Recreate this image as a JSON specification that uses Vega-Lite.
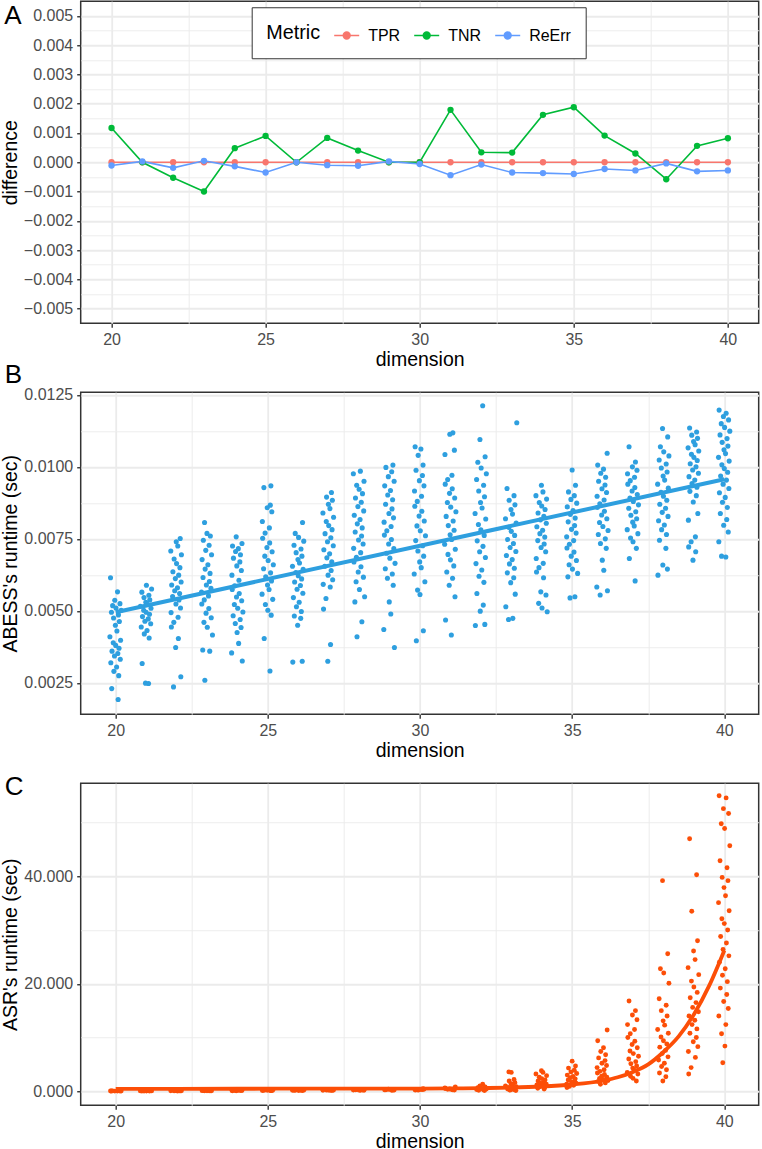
{
"$schema": "https://vega.github.io/schema/vega-lite/v6.json",
"padding": {"left": -1.3, "top": 0.25, "right": 0, "bottom": 0},
"bounds": "flush",
"spacing": 69,
"config": {
  "font": "Liberation Sans",
  "view": {"stroke": "#333333", "strokeWidth": 1.5},
  "axis": {"domain": false, "tickColor": "#333333", "tickSize": 4, "tickWidth": 1.4, "tickCount": 100, "labelFont": "Liberation Sans", "labelFontSize": 16, "labelColor": "#4D4D4D", "labelPadding": 4, "labelOverlap": false, "labelFlush": false, "titleFont": "Liberation Sans", "titleFontSize": 19.5, "titleFontWeight": "normal", "titleColor": "#000000", "titlePadding": 3, "gridColor": "#EBEBEB"},
  "title": {"font": "Liberation Sans", "fontSize": 26, "fontWeight": "normal", "color": "#000000", "orient": "bottom", "align": "left", "baseline": "alphabetic", "anchor": "start", "frame": "bounds", "offset": 0, "dx": 4}
},
"datasets": {
"diff": [
{"dimension":20,"Metric":"TPR","difference":0},{"dimension":21,"Metric":"TPR","difference":0},{"dimension":22,"Metric":"TPR","difference":0},{"dimension":23,"Metric":"TPR","difference":0},{"dimension":24,"Metric":"TPR","difference":0},{"dimension":25,"Metric":"TPR","difference":0},{"dimension":26,"Metric":"TPR","difference":0},{"dimension":27,"Metric":"TPR","difference":0},{"dimension":28,"Metric":"TPR","difference":0},{"dimension":29,"Metric":"TPR","difference":0},{"dimension":30,"Metric":"TPR","difference":0},{"dimension":31,"Metric":"TPR","difference":0},{"dimension":32,"Metric":"TPR","difference":0},{"dimension":33,"Metric":"TPR","difference":0},{"dimension":34,"Metric":"TPR","difference":0},{"dimension":35,"Metric":"TPR","difference":0},{"dimension":36,"Metric":"TPR","difference":0},{"dimension":37,"Metric":"TPR","difference":0},{"dimension":38,"Metric":"TPR","difference":0},{"dimension":39,"Metric":"TPR","difference":0},{"dimension":40,"Metric":"TPR","difference":0},
{"dimension":20,"Metric":"TNR","difference":0.00117},{"dimension":21,"Metric":"TNR","difference":0.0},{"dimension":22,"Metric":"TNR","difference":-0.00053},{"dimension":23,"Metric":"TNR","difference":-0.001},{"dimension":24,"Metric":"TNR","difference":0.00048},{"dimension":25,"Metric":"TNR","difference":0.0009},{"dimension":26,"Metric":"TNR","difference":0.0},{"dimension":27,"Metric":"TNR","difference":0.00083},{"dimension":28,"Metric":"TNR","difference":0.0004},{"dimension":29,"Metric":"TNR","difference":0.0},{"dimension":30,"Metric":"TNR","difference":0.0},{"dimension":31,"Metric":"TNR","difference":0.00179},{"dimension":32,"Metric":"TNR","difference":0.00034},{"dimension":33,"Metric":"TNR","difference":0.00033},{"dimension":34,"Metric":"TNR","difference":0.00162},{"dimension":35,"Metric":"TNR","difference":0.00188},{"dimension":36,"Metric":"TNR","difference":0.00091},{"dimension":37,"Metric":"TNR","difference":0.0003},{"dimension":38,"Metric":"TNR","difference":-0.00058},{"dimension":39,"Metric":"TNR","difference":0.00056},{"dimension":40,"Metric":"TNR","difference":0.00082},
{"dimension":20,"Metric":"ReErr","difference":-0.00011},{"dimension":21,"Metric":"ReErr","difference":0.00003},{"dimension":22,"Metric":"ReErr","difference":-0.00019},{"dimension":23,"Metric":"ReErr","difference":0.00005},{"dimension":24,"Metric":"ReErr","difference":-0.00014},{"dimension":25,"Metric":"ReErr","difference":-0.00035},{"dimension":26,"Metric":"ReErr","difference":0.0},{"dimension":27,"Metric":"ReErr","difference":-0.0001},{"dimension":28,"Metric":"ReErr","difference":-0.00012},{"dimension":29,"Metric":"ReErr","difference":0.00003},{"dimension":30,"Metric":"ReErr","difference":-0.00006},{"dimension":31,"Metric":"ReErr","difference":-0.00044},{"dimension":32,"Metric":"ReErr","difference":-0.00008},{"dimension":33,"Metric":"ReErr","difference":-0.00035},{"dimension":34,"Metric":"ReErr","difference":-0.00037},{"dimension":35,"Metric":"ReErr","difference":-0.0004},{"dimension":36,"Metric":"ReErr","difference":-0.00023},{"dimension":37,"Metric":"ReErr","difference":-0.00028},{"dimension":38,"Metric":"ReErr","difference":-0.00004},{"dimension":39,"Metric":"ReErr","difference":-0.00031},{"dimension":40,"Metric":"ReErr","difference":-0.00028}
],
"abess": [
{"dim":19.83,"sec":0.00615},{"dim":20.06,"sec":0.00566},{"dim":19.97,"sec":0.00537},{"dim":20.14,"sec":0.00525},{"dim":19.90,"sec":0.00518},{"dim":20.01,"sec":0.00510},{"dim":20.18,"sec":0.00502},{"dim":19.86,"sec":0.00495},{"dim":20.09,"sec":0.00486},{"dim":19.93,"sec":0.00475},{"dim":20.12,"sec":0.00463},{"dim":19.99,"sec":0.00450},{"dim":20.04,"sec":0.00430},{"dim":19.81,"sec":0.00410},{"dim":20.16,"sec":0.00398},{"dim":19.92,"sec":0.00389},{"dim":20.00,"sec":0.00380},{"dim":20.11,"sec":0.00370},{"dim":19.88,"sec":0.00360},{"dim":20.07,"sec":0.00352},{"dim":19.96,"sec":0.00343},{"dim":20.15,"sec":0.00332},{"dim":19.84,"sec":0.00320},{"dim":20.03,"sec":0.00305},{"dim":19.94,"sec":0.00290},{"dim":20.10,"sec":0.00275},{"dim":19.87,"sec":0.00230},{"dim":20.08,"sec":0.00192},
{"dim":21.01,"sec":0.00589},{"dim":21.18,"sec":0.00576},{"dim":20.86,"sec":0.00565},{"dim":21.09,"sec":0.00554},{"dim":20.93,"sec":0.00546},{"dim":21.12,"sec":0.00538},{"dim":20.99,"sec":0.00530},{"dim":21.04,"sec":0.00523},{"dim":20.81,"sec":0.00516},{"dim":21.16,"sec":0.00509},{"dim":20.92,"sec":0.00502},{"dim":21.00,"sec":0.00495},{"dim":21.11,"sec":0.00488},{"dim":20.88,"sec":0.00480},{"dim":21.07,"sec":0.00472},{"dim":20.96,"sec":0.00464},{"dim":21.15,"sec":0.00455},{"dim":20.84,"sec":0.00444},{"dim":21.03,"sec":0.00432},{"dim":20.94,"sec":0.00420},{"dim":21.10,"sec":0.00406},{"dim":20.87,"sec":0.00317},{"dim":21.08,"sec":0.00248},{"dim":20.98,"sec":0.00249},
{"dim":22.12,"sec":0.00751},{"dim":21.99,"sec":0.00740},{"dim":22.04,"sec":0.00725},{"dim":21.81,"sec":0.00708},{"dim":22.16,"sec":0.00695},{"dim":21.92,"sec":0.00680},{"dim":22.00,"sec":0.00664},{"dim":22.11,"sec":0.00650},{"dim":21.88,"sec":0.00636},{"dim":22.07,"sec":0.00624},{"dim":21.96,"sec":0.00612},{"dim":22.15,"sec":0.00600},{"dim":21.84,"sec":0.00590},{"dim":22.03,"sec":0.00580},{"dim":21.94,"sec":0.00570},{"dim":22.10,"sec":0.00560},{"dim":21.87,"sec":0.00550},{"dim":22.08,"sec":0.00538},{"dim":21.98,"sec":0.00524},{"dim":22.13,"sec":0.00510},{"dim":21.82,"sec":0.00494},{"dim":22.05,"sec":0.00478},{"dim":21.91,"sec":0.00460},{"dim":21.83,"sec":0.00444},{"dim":22.06,"sec":0.00404},{"dim":21.97,"sec":0.00373},{"dim":22.14,"sec":0.00271},{"dim":21.90,"sec":0.00236},
{"dim":22.92,"sec":0.00807},{"dim":23.00,"sec":0.00769},{"dim":23.11,"sec":0.00760},{"dim":22.88,"sec":0.00745},{"dim":23.07,"sec":0.00728},{"dim":22.96,"sec":0.00710},{"dim":23.15,"sec":0.00695},{"dim":22.84,"sec":0.00678},{"dim":23.03,"sec":0.00660},{"dim":22.94,"sec":0.00645},{"dim":23.10,"sec":0.00630},{"dim":22.87,"sec":0.00616},{"dim":23.08,"sec":0.00602},{"dim":22.98,"sec":0.00590},{"dim":23.13,"sec":0.00578},{"dim":22.82,"sec":0.00565},{"dim":23.05,"sec":0.00552},{"dim":22.91,"sec":0.00538},{"dim":22.83,"sec":0.00524},{"dim":23.06,"sec":0.00508},{"dim":22.97,"sec":0.00492},{"dim":23.14,"sec":0.00476},{"dim":22.90,"sec":0.00460},{"dim":23.01,"sec":0.00443},{"dim":23.18,"sec":0.00416},{"dim":22.86,"sec":0.00364},{"dim":23.09,"sec":0.00360},{"dim":22.93,"sec":0.00259},
{"dim":23.96,"sec":0.00757},{"dim":24.15,"sec":0.00734},{"dim":23.84,"sec":0.00725},{"dim":24.03,"sec":0.00716},{"dim":23.94,"sec":0.00706},{"dim":24.10,"sec":0.00695},{"dim":23.87,"sec":0.00683},{"dim":24.08,"sec":0.00670},{"dim":23.98,"sec":0.00656},{"dim":24.13,"sec":0.00640},{"dim":23.82,"sec":0.00624},{"dim":24.05,"sec":0.00606},{"dim":23.91,"sec":0.00587},{"dim":23.83,"sec":0.00574},{"dim":24.06,"sec":0.00560},{"dim":23.97,"sec":0.00548},{"dim":24.14,"sec":0.00535},{"dim":23.90,"sec":0.00522},{"dim":24.01,"sec":0.00509},{"dim":24.18,"sec":0.00496},{"dim":23.86,"sec":0.00483},{"dim":24.09,"sec":0.00470},{"dim":23.93,"sec":0.00456},{"dim":24.12,"sec":0.00442},{"dim":23.99,"sec":0.00425},{"dim":24.04,"sec":0.00387},{"dim":23.81,"sec":0.00354},{"dim":24.16,"sec":0.00326},
{"dim":25.10,"sec":0.00934},{"dim":24.87,"sec":0.00928},{"dim":25.08,"sec":0.00867},{"dim":24.98,"sec":0.00858},{"dim":25.13,"sec":0.00844},{"dim":24.82,"sec":0.00810},{"dim":25.05,"sec":0.00788},{"dim":24.91,"sec":0.00770},{"dim":24.83,"sec":0.00752},{"dim":25.06,"sec":0.00736},{"dim":24.97,"sec":0.00720},{"dim":25.14,"sec":0.00705},{"dim":24.90,"sec":0.00690},{"dim":25.01,"sec":0.00675},{"dim":25.18,"sec":0.00660},{"dim":24.86,"sec":0.00646},{"dim":25.09,"sec":0.00632},{"dim":24.93,"sec":0.00618},{"dim":25.12,"sec":0.00604},{"dim":24.99,"sec":0.00590},{"dim":25.04,"sec":0.00574},{"dim":24.81,"sec":0.00558},{"dim":25.16,"sec":0.00540},{"dim":24.92,"sec":0.00522},{"dim":25.00,"sec":0.00502},{"dim":25.11,"sec":0.00485},{"dim":24.88,"sec":0.00404},{"dim":25.07,"sec":0.00291},
{"dim":26.14,"sec":0.00807},{"dim":25.90,"sec":0.00769},{"dim":26.01,"sec":0.00755},{"dim":26.18,"sec":0.00742},{"dim":25.86,"sec":0.00728},{"dim":26.09,"sec":0.00715},{"dim":25.93,"sec":0.00702},{"dim":26.12,"sec":0.00690},{"dim":25.99,"sec":0.00678},{"dim":26.04,"sec":0.00666},{"dim":25.81,"sec":0.00655},{"dim":26.16,"sec":0.00644},{"dim":25.92,"sec":0.00633},{"dim":26.00,"sec":0.00622},{"dim":26.11,"sec":0.00611},{"dim":25.88,"sec":0.00600},{"dim":26.07,"sec":0.00588},{"dim":25.96,"sec":0.00575},{"dim":26.15,"sec":0.00561},{"dim":25.84,"sec":0.00546},{"dim":26.03,"sec":0.00530},{"dim":25.94,"sec":0.00514},{"dim":26.10,"sec":0.00498},{"dim":25.87,"sec":0.00482},{"dim":26.08,"sec":0.00474},{"dim":25.98,"sec":0.00450},{"dim":26.13,"sec":0.00325},{"dim":25.82,"sec":0.00322},
{"dim":27.09,"sec":0.00911},{"dim":26.93,"sec":0.00895},{"dim":27.12,"sec":0.00884},{"dim":26.99,"sec":0.00870},{"dim":27.04,"sec":0.00855},{"dim":26.81,"sec":0.00840},{"dim":27.16,"sec":0.00825},{"dim":26.92,"sec":0.00810},{"dim":27.00,"sec":0.00796},{"dim":27.11,"sec":0.00782},{"dim":26.88,"sec":0.00768},{"dim":27.07,"sec":0.00754},{"dim":26.96,"sec":0.00740},{"dim":27.15,"sec":0.00726},{"dim":26.84,"sec":0.00712},{"dim":27.03,"sec":0.00698},{"dim":26.94,"sec":0.00684},{"dim":27.10,"sec":0.00670},{"dim":26.87,"sec":0.00655},{"dim":27.08,"sec":0.00640},{"dim":26.98,"sec":0.00624},{"dim":27.13,"sec":0.00608},{"dim":26.82,"sec":0.00592},{"dim":27.05,"sec":0.00583},{"dim":26.91,"sec":0.00543},{"dim":26.83,"sec":0.00506},{"dim":27.06,"sec":0.00383},{"dim":26.97,"sec":0.00325},
{"dim":28.04,"sec":0.00985},{"dim":27.81,"sec":0.00976},{"dim":28.16,"sec":0.00950},{"dim":27.92,"sec":0.00936},{"dim":28.00,"sec":0.00922},{"dim":28.11,"sec":0.00907},{"dim":27.88,"sec":0.00892},{"dim":28.07,"sec":0.00877},{"dim":27.96,"sec":0.00862},{"dim":28.15,"sec":0.00847},{"dim":27.84,"sec":0.00832},{"dim":28.03,"sec":0.00817},{"dim":27.94,"sec":0.00802},{"dim":28.10,"sec":0.00788},{"dim":27.87,"sec":0.00774},{"dim":28.08,"sec":0.00760},{"dim":27.98,"sec":0.00746},{"dim":28.13,"sec":0.00732},{"dim":27.82,"sec":0.00717},{"dim":28.05,"sec":0.00702},{"dim":27.91,"sec":0.00686},{"dim":27.83,"sec":0.00670},{"dim":28.06,"sec":0.00653},{"dim":27.97,"sec":0.00635},{"dim":28.14,"sec":0.00617},{"dim":27.90,"sec":0.00601},{"dim":28.01,"sec":0.00574},{"dim":28.18,"sec":0.00549},{"dim":27.86,"sec":0.00531},{"dim":28.09,"sec":0.00462},{"dim":27.93,"sec":0.00410},
{"dim":29.11,"sec":0.01006},{"dim":28.88,"sec":0.00998},{"dim":29.07,"sec":0.00983},{"dim":28.96,"sec":0.00966},{"dim":29.15,"sec":0.00950},{"dim":28.84,"sec":0.00934},{"dim":29.03,"sec":0.00918},{"dim":28.94,"sec":0.00902},{"dim":29.10,"sec":0.00886},{"dim":28.87,"sec":0.00870},{"dim":29.08,"sec":0.00854},{"dim":28.98,"sec":0.00838},{"dim":29.13,"sec":0.00823},{"dim":28.82,"sec":0.00808},{"dim":29.05,"sec":0.00793},{"dim":28.91,"sec":0.00778},{"dim":28.83,"sec":0.00763},{"dim":29.06,"sec":0.00748},{"dim":28.97,"sec":0.00732},{"dim":29.14,"sec":0.00716},{"dim":28.90,"sec":0.00700},{"dim":29.01,"sec":0.00683},{"dim":29.18,"sec":0.00665},{"dim":28.86,"sec":0.00646},{"dim":29.09,"sec":0.00628},{"dim":28.93,"sec":0.00613},{"dim":29.12,"sec":0.00589},{"dim":28.99,"sec":0.00531},{"dim":29.04,"sec":0.00489},{"dim":28.81,"sec":0.00435},{"dim":29.16,"sec":0.00373},
{"dim":29.84,"sec":0.01070},{"dim":30.03,"sec":0.01062},{"dim":29.94,"sec":0.01040},{"dim":30.10,"sec":0.01006},{"dim":29.87,"sec":0.00988},{"dim":30.08,"sec":0.00970},{"dim":29.98,"sec":0.00952},{"dim":30.13,"sec":0.00934},{"dim":29.82,"sec":0.00916},{"dim":30.05,"sec":0.00898},{"dim":29.91,"sec":0.00880},{"dim":29.83,"sec":0.00863},{"dim":30.06,"sec":0.00846},{"dim":29.97,"sec":0.00829},{"dim":30.14,"sec":0.00812},{"dim":29.90,"sec":0.00795},{"dim":30.01,"sec":0.00778},{"dim":30.18,"sec":0.00761},{"dim":29.86,"sec":0.00744},{"dim":30.09,"sec":0.00726},{"dim":29.93,"sec":0.00708},{"dim":30.12,"sec":0.00690},{"dim":29.99,"sec":0.00670},{"dim":30.04,"sec":0.00650},{"dim":29.81,"sec":0.00628},{"dim":30.16,"sec":0.00601},{"dim":29.92,"sec":0.00572},{"dim":30.00,"sec":0.00557},{"dim":30.11,"sec":0.00431},{"dim":29.88,"sec":0.00396},
{"dim":31.08,"sec":0.01118},{"dim":30.98,"sec":0.01113},{"dim":31.13,"sec":0.01058},{"dim":30.82,"sec":0.01043},{"dim":31.05,"sec":0.00971},{"dim":30.91,"sec":0.00956},{"dim":30.83,"sec":0.00940},{"dim":31.06,"sec":0.00924},{"dim":30.97,"sec":0.00908},{"dim":31.14,"sec":0.00892},{"dim":30.90,"sec":0.00876},{"dim":31.01,"sec":0.00860},{"dim":31.18,"sec":0.00844},{"dim":30.86,"sec":0.00828},{"dim":31.09,"sec":0.00812},{"dim":30.93,"sec":0.00796},{"dim":31.12,"sec":0.00780},{"dim":30.99,"sec":0.00764},{"dim":31.04,"sec":0.00748},{"dim":30.81,"sec":0.00731},{"dim":31.16,"sec":0.00714},{"dim":30.92,"sec":0.00696},{"dim":31.00,"sec":0.00677},{"dim":31.11,"sec":0.00656},{"dim":30.88,"sec":0.00635},{"dim":31.07,"sec":0.00613},{"dim":30.96,"sec":0.00589},{"dim":31.15,"sec":0.00549},{"dim":30.84,"sec":0.00468},{"dim":31.03,"sec":0.00416},
{"dim":32.06,"sec":0.01212},{"dim":31.97,"sec":0.01095},{"dim":32.14,"sec":0.01035},{"dim":31.90,"sec":0.01016},{"dim":32.01,"sec":0.00996},{"dim":32.18,"sec":0.00976},{"dim":31.86,"sec":0.00956},{"dim":32.09,"sec":0.00936},{"dim":31.93,"sec":0.00916},{"dim":32.12,"sec":0.00896},{"dim":31.99,"sec":0.00876},{"dim":32.04,"sec":0.00857},{"dim":31.81,"sec":0.00838},{"dim":32.16,"sec":0.00819},{"dim":31.92,"sec":0.00800},{"dim":32.00,"sec":0.00781},{"dim":32.11,"sec":0.00762},{"dim":31.88,"sec":0.00743},{"dim":32.07,"sec":0.00724},{"dim":31.96,"sec":0.00705},{"dim":32.15,"sec":0.00685},{"dim":31.84,"sec":0.00664},{"dim":32.03,"sec":0.00642},{"dim":31.94,"sec":0.00620},{"dim":32.10,"sec":0.00599},{"dim":31.87,"sec":0.00560},{"dim":32.08,"sec":0.00520},{"dim":31.98,"sec":0.00499},{"dim":32.13,"sec":0.00453},{"dim":31.82,"sec":0.00449},
{"dim":33.18,"sec":0.01153},{"dim":32.86,"sec":0.00925},{"dim":33.09,"sec":0.00900},{"dim":32.93,"sec":0.00884},{"dim":33.12,"sec":0.00868},{"dim":32.99,"sec":0.00852},{"dim":33.04,"sec":0.00836},{"dim":32.81,"sec":0.00820},{"dim":33.16,"sec":0.00805},{"dim":32.92,"sec":0.00790},{"dim":33.00,"sec":0.00776},{"dim":33.11,"sec":0.00762},{"dim":32.88,"sec":0.00748},{"dim":33.07,"sec":0.00734},{"dim":32.96,"sec":0.00720},{"dim":33.15,"sec":0.00706},{"dim":32.84,"sec":0.00692},{"dim":33.03,"sec":0.00678},{"dim":32.94,"sec":0.00663},{"dim":33.10,"sec":0.00648},{"dim":32.87,"sec":0.00632},{"dim":33.08,"sec":0.00615},{"dim":32.98,"sec":0.00598},{"dim":33.13,"sec":0.00558},{"dim":32.82,"sec":0.00514},{"dim":33.05,"sec":0.00474},{"dim":32.91,"sec":0.00470},
{"dim":33.99,"sec":0.00936},{"dim":34.04,"sec":0.00913},{"dim":33.81,"sec":0.00900},{"dim":34.16,"sec":0.00888},{"dim":33.92,"sec":0.00876},{"dim":34.00,"sec":0.00864},{"dim":34.11,"sec":0.00852},{"dim":33.88,"sec":0.00840},{"dim":34.07,"sec":0.00828},{"dim":33.96,"sec":0.00816},{"dim":34.15,"sec":0.00804},{"dim":33.84,"sec":0.00792},{"dim":34.03,"sec":0.00780},{"dim":33.94,"sec":0.00768},{"dim":34.10,"sec":0.00756},{"dim":33.87,"sec":0.00744},{"dim":34.08,"sec":0.00732},{"dim":33.98,"sec":0.00720},{"dim":34.13,"sec":0.00705},{"dim":33.82,"sec":0.00682},{"dim":34.05,"sec":0.00665},{"dim":33.91,"sec":0.00650},{"dim":33.83,"sec":0.00635},{"dim":34.06,"sec":0.00615},{"dim":33.97,"sec":0.00566},{"dim":34.14,"sec":0.00555},{"dim":33.90,"sec":0.00526},{"dim":34.01,"sec":0.00510},{"dim":34.18,"sec":0.00497},
{"dim":35.00,"sec":0.00989},{"dim":35.11,"sec":0.00936},{"dim":34.88,"sec":0.00913},{"dim":35.07,"sec":0.00900},{"dim":34.96,"sec":0.00887},{"dim":35.15,"sec":0.00874},{"dim":34.84,"sec":0.00861},{"dim":35.03,"sec":0.00848},{"dim":34.94,"sec":0.00835},{"dim":35.10,"sec":0.00822},{"dim":34.87,"sec":0.00809},{"dim":35.08,"sec":0.00796},{"dim":34.98,"sec":0.00783},{"dim":35.13,"sec":0.00770},{"dim":34.82,"sec":0.00757},{"dim":35.05,"sec":0.00744},{"dim":34.91,"sec":0.00731},{"dim":34.83,"sec":0.00718},{"dim":35.06,"sec":0.00704},{"dim":34.97,"sec":0.00690},{"dim":35.14,"sec":0.00675},{"dim":34.90,"sec":0.00660},{"dim":35.01,"sec":0.00645},{"dim":35.18,"sec":0.00630},{"dim":34.86,"sec":0.00618},{"dim":35.09,"sec":0.00549},{"dim":34.93,"sec":0.00545},
{"dim":36.15,"sec":0.01047},{"dim":35.84,"sec":0.01006},{"dim":36.03,"sec":0.00992},{"dim":35.94,"sec":0.00978},{"dim":36.10,"sec":0.00964},{"dim":35.87,"sec":0.00950},{"dim":36.08,"sec":0.00937},{"dim":35.98,"sec":0.00924},{"dim":36.13,"sec":0.00911},{"dim":35.82,"sec":0.00898},{"dim":36.05,"sec":0.00885},{"dim":35.91,"sec":0.00872},{"dim":35.83,"sec":0.00859},{"dim":36.06,"sec":0.00846},{"dim":35.97,"sec":0.00833},{"dim":36.14,"sec":0.00820},{"dim":35.90,"sec":0.00807},{"dim":36.01,"sec":0.00793},{"dim":36.18,"sec":0.00779},{"dim":35.86,"sec":0.00765},{"dim":36.09,"sec":0.00750},{"dim":35.93,"sec":0.00734},{"dim":36.12,"sec":0.00717},{"dim":35.99,"sec":0.00676},{"dim":36.04,"sec":0.00641},{"dim":35.81,"sec":0.00583},{"dim":36.16,"sec":0.00570},{"dim":35.92,"sec":0.00555},
{"dim":36.87,"sec":0.01070},{"dim":37.08,"sec":0.01017},{"dim":36.98,"sec":0.01000},{"dim":37.13,"sec":0.00988},{"dim":36.82,"sec":0.00976},{"dim":37.05,"sec":0.00964},{"dim":36.91,"sec":0.00952},{"dim":36.83,"sec":0.00940},{"dim":37.06,"sec":0.00928},{"dim":36.97,"sec":0.00916},{"dim":37.14,"sec":0.00904},{"dim":36.90,"sec":0.00892},{"dim":37.01,"sec":0.00880},{"dim":37.18,"sec":0.00868},{"dim":36.86,"sec":0.00856},{"dim":37.09,"sec":0.00844},{"dim":36.93,"sec":0.00832},{"dim":37.12,"sec":0.00820},{"dim":36.99,"sec":0.00808},{"dim":37.04,"sec":0.00795},{"dim":36.81,"sec":0.00782},{"dim":37.16,"sec":0.00768},{"dim":36.92,"sec":0.00753},{"dim":37.00,"sec":0.00740},{"dim":37.11,"sec":0.00717},{"dim":36.88,"sec":0.00682},{"dim":37.07,"sec":0.00604},
{"dim":37.97,"sec":0.01133},{"dim":38.14,"sec":0.01104},{"dim":37.90,"sec":0.01070},{"dim":38.01,"sec":0.01052},{"dim":38.18,"sec":0.01038},{"dim":37.86,"sec":0.01024},{"dim":38.09,"sec":0.01010},{"dim":37.93,"sec":0.00996},{"dim":38.12,"sec":0.00982},{"dim":37.99,"sec":0.00968},{"dim":38.04,"sec":0.00954},{"dim":37.81,"sec":0.00940},{"dim":38.16,"sec":0.00926},{"dim":37.92,"sec":0.00912},{"dim":38.00,"sec":0.00898},{"dim":38.11,"sec":0.00884},{"dim":37.88,"sec":0.00870},{"dim":38.07,"sec":0.00856},{"dim":37.96,"sec":0.00842},{"dim":38.15,"sec":0.00828},{"dim":37.84,"sec":0.00813},{"dim":38.03,"sec":0.00798},{"dim":37.94,"sec":0.00782},{"dim":38.10,"sec":0.00765},{"dim":37.87,"sec":0.00745},{"dim":38.08,"sec":0.00717},{"dim":37.98,"sec":0.00659},{"dim":38.13,"sec":0.00645},{"dim":37.82,"sec":0.00624},
{"dim":38.86,"sec":0.01135},{"dim":39.09,"sec":0.01121},{"dim":38.93,"sec":0.01110},{"dim":39.12,"sec":0.01099},{"dim":38.99,"sec":0.01088},{"dim":39.04,"sec":0.01077},{"dim":38.81,"sec":0.01066},{"dim":39.16,"sec":0.01055},{"dim":38.92,"sec":0.01044},{"dim":39.00,"sec":0.01033},{"dim":39.11,"sec":0.01022},{"dim":38.88,"sec":0.01011},{"dim":39.07,"sec":0.01000},{"dim":38.96,"sec":0.00989},{"dim":39.15,"sec":0.00978},{"dim":38.84,"sec":0.00966},{"dim":39.03,"sec":0.00954},{"dim":38.94,"sec":0.00942},{"dim":39.10,"sec":0.00929},{"dim":38.87,"sec":0.00915},{"dim":39.08,"sec":0.00900},{"dim":38.98,"sec":0.00878},{"dim":39.13,"sec":0.00838},{"dim":38.82,"sec":0.00815},{"dim":39.05,"sec":0.00757},{"dim":38.91,"sec":0.00740},{"dim":38.83,"sec":0.00722},{"dim":39.06,"sec":0.00705},{"dim":38.97,"sec":0.00676},
{"dim":39.83,"sec":0.01197},{"dim":40.06,"sec":0.01186},{"dim":39.97,"sec":0.01175},{"dim":40.14,"sec":0.01163},{"dim":39.90,"sec":0.01150},{"dim":40.01,"sec":0.01137},{"dim":40.18,"sec":0.01124},{"dim":39.86,"sec":0.01111},{"dim":40.09,"sec":0.01098},{"dim":39.93,"sec":0.01085},{"dim":40.12,"sec":0.01072},{"dim":39.99,"sec":0.01059},{"dim":40.04,"sec":0.01046},{"dim":39.81,"sec":0.01033},{"dim":40.16,"sec":0.01020},{"dim":39.92,"sec":0.01007},{"dim":40.00,"sec":0.00994},{"dim":40.11,"sec":0.00981},{"dim":39.88,"sec":0.00968},{"dim":40.07,"sec":0.00954},{"dim":39.96,"sec":0.00940},{"dim":40.15,"sec":0.00925},{"dim":39.84,"sec":0.00910},{"dim":40.03,"sec":0.00894},{"dim":39.94,"sec":0.00877},{"dim":40.10,"sec":0.00859},{"dim":39.87,"sec":0.00838},{"dim":40.08,"sec":0.00817},{"dim":39.98,"sec":0.00797},{"dim":40.13,"sec":0.00774},{"dim":39.82,"sec":0.00740},{"dim":40.05,"sec":0.00687},{"dim":39.91,"sec":0.00690}
],
"abessfit": [{"dim":20,"sec":0.00495},{"dim":40,"sec":0.00957}],
"asr": [
{"dim":19.83,"sec":0.03},{"dim":20.06,"sec":0.05},{"dim":19.97,"sec":0.02},{"dim":20.14,"sec":0.04},{"dim":19.90,"sec":0.06},{"dim":20.18,"sec":0.03},{"dim":19.86,"sec":0.05},
{"dim":21.01,"sec":0.04},{"dim":21.18,"sec":0.06},{"dim":20.86,"sec":0.03},{"dim":21.09,"sec":0.07},{"dim":20.93,"sec":0.05},{"dim":21.12,"sec":0.04},{"dim":20.81,"sec":0.06},
{"dim":22.12,"sec":0.06},{"dim":21.99,"sec":0.08},{"dim":22.04,"sec":0.05},{"dim":21.81,"sec":0.09},{"dim":22.16,"sec":0.07},{"dim":21.92,"sec":0.06},{"dim":22.11,"sec":0.1},
{"dim":22.92,"sec":0.08},{"dim":23.00,"sec":0.1},{"dim":23.11,"sec":0.07},{"dim":22.88,"sec":0.12},{"dim":23.07,"sec":0.09},{"dim":22.84,"sec":0.11},{"dim":23.15,"sec":0.08},
{"dim":23.96,"sec":0.1},{"dim":24.15,"sec":0.13},{"dim":23.84,"sec":0.09},{"dim":24.03,"sec":0.15},{"dim":23.94,"sec":0.11},{"dim":24.10,"sec":0.12},{"dim":23.82,"sec":0.14},
{"dim":25.10,"sec":0.12},{"dim":24.87,"sec":0.15},{"dim":25.08,"sec":0.11},{"dim":24.98,"sec":0.18},{"dim":25.13,"sec":0.14},{"dim":24.82,"sec":0.13},{"dim":25.16,"sec":0.16},
{"dim":26.14,"sec":0.14},{"dim":25.90,"sec":0.18},{"dim":26.01,"sec":0.13},{"dim":26.18,"sec":0.2},{"dim":25.86,"sec":0.16},{"dim":26.09,"sec":0.15},{"dim":25.81,"sec":0.19},
{"dim":27.09,"sec":0.16},{"dim":26.93,"sec":0.2},{"dim":27.12,"sec":0.15},{"dim":26.99,"sec":0.24},{"dim":27.04,"sec":0.18},{"dim":26.81,"sec":0.17},{"dim":27.16,"sec":0.22},
{"dim":28.04,"sec":0.18},{"dim":27.81,"sec":0.24},{"dim":28.16,"sec":0.17},{"dim":27.92,"sec":0.3},{"dim":28.00,"sec":0.2},{"dim":28.11,"sec":0.22},{"dim":27.88,"sec":0.27},
{"dim":29.11,"sec":0.2},{"dim":28.88,"sec":0.28},{"dim":29.07,"sec":0.19},{"dim":28.96,"sec":0.36},{"dim":29.15,"sec":0.23},{"dim":28.84,"sec":0.25},{"dim":29.03,"sec":0.32},
{"dim":29.84,"sec":0.22},{"dim":30.03,"sec":0.33},{"dim":29.94,"sec":0.2},{"dim":30.10,"sec":0.45},{"dim":29.87,"sec":0.26},{"dim":30.08,"sec":0.3},{"dim":30.13,"sec":0.38},
{"dim":31.08,"sec":0.25},{"dim":30.98,"sec":0.4},{"dim":31.13,"sec":0.22},{"dim":30.82,"sec":0.6},{"dim":31.05,"sec":0.3},{"dim":30.91,"sec":0.35},{"dim":30.83,"sec":0.5},{"dim":31.16,"sec":0.8},
{"dim":32.06,"sec":1.3},{"dim":31.97,"sec":1.0},{"dim":32.14,"sec":0.8},{"dim":31.90,"sec":0.65},{"dim":32.01,"sec":0.5},{"dim":32.18,"sec":0.4},{"dim":31.86,"sec":0.32},{"dim":32.09,"sec":0.25},{"dim":31.93,"sec":0.18},{"dim":32.12,"sec":0.12},
{"dim":32.92,"sec":3.6},{"dim":33.00,"sec":3.5},{"dim":33.09,"sec":2.2},{"dim":32.93,"sec":1.9},{"dim":33.12,"sec":1.6},{"dim":32.99,"sec":1.4},{"dim":33.04,"sec":1.2},{"dim":32.81,"sec":1.0},{"dim":33.16,"sec":0.85},{"dim":32.92,"sec":0.7},{"dim":33.00,"sec":0.6},{"dim":33.11,"sec":0.5},{"dim":32.88,"sec":0.4},{"dim":33.07,"sec":0.3},{"dim":32.96,"sec":0.2},{"dim":33.15,"sec":0.12},
{"dim":33.99,"sec":3.8},{"dim":34.04,"sec":3.5},{"dim":33.81,"sec":3.2},{"dim":34.16,"sec":2.9},{"dim":33.92,"sec":2.6},{"dim":34.00,"sec":2.35},{"dim":34.11,"sec":2.1},{"dim":33.88,"sec":1.9},{"dim":34.07,"sec":1.7},{"dim":33.96,"sec":1.5},{"dim":34.15,"sec":1.3},{"dim":33.84,"sec":1.15},{"dim":34.03,"sec":1.0},{"dim":33.94,"sec":0.85},{"dim":34.10,"sec":0.7},{"dim":33.87,"sec":0.55},{"dim":34.08,"sec":0.4},
{"dim":35.00,"sec":5.6},{"dim":35.11,"sec":4.7},{"dim":34.88,"sec":4.3},{"dim":35.07,"sec":3.9},{"dim":34.96,"sec":3.6},{"dim":35.15,"sec":3.3},{"dim":34.84,"sec":3.0},{"dim":35.03,"sec":2.75},{"dim":34.94,"sec":2.5},{"dim":35.10,"sec":2.3},{"dim":34.87,"sec":2.1},{"dim":35.08,"sec":1.9},{"dim":34.98,"sec":1.7},{"dim":35.13,"sec":1.5},{"dim":34.82,"sec":1.3},{"dim":35.05,"sec":1.1},{"dim":34.91,"sec":0.9},{"dim":34.83,"sec":0.7},
{"dim":36.15,"sec":11.4},{"dim":35.84,"sec":9.4},{"dim":36.03,"sec":8.1},{"dim":35.94,"sec":7.4},{"dim":36.10,"sec":6.8},{"dim":35.87,"sec":6.2},{"dim":36.08,"sec":5.7},{"dim":35.98,"sec":5.2},{"dim":36.13,"sec":4.8},{"dim":35.82,"sec":4.4},{"dim":36.05,"sec":4.0},{"dim":35.91,"sec":3.7},{"dim":35.83,"sec":3.4},{"dim":36.06,"sec":3.1},{"dim":35.97,"sec":2.8},{"dim":36.14,"sec":2.6},{"dim":35.90,"sec":2.4},{"dim":36.01,"sec":2.2},{"dim":36.18,"sec":2.0},{"dim":35.86,"sec":1.8},{"dim":36.09,"sec":1.55},{"dim":35.93,"sec":1.3},
{"dim":36.87,"sec":16.8},{"dim":37.08,"sec":15.0},{"dim":36.98,"sec":14.2},{"dim":37.13,"sec":13.3},{"dim":36.82,"sec":12.4},{"dim":37.05,"sec":11.5},{"dim":36.91,"sec":10.7},{"dim":36.83,"sec":10.0},{"dim":37.06,"sec":9.3},{"dim":36.97,"sec":8.7},{"dim":37.14,"sec":8.1},{"dim":36.90,"sec":7.5},{"dim":37.01,"sec":7.0},{"dim":37.18,"sec":6.5},{"dim":36.86,"sec":6.0},{"dim":37.09,"sec":5.5},{"dim":36.93,"sec":5.1},{"dim":37.12,"sec":4.7},{"dim":36.99,"sec":4.3},{"dim":37.04,"sec":3.9},{"dim":36.81,"sec":3.5},{"dim":37.16,"sec":3.2},{"dim":36.92,"sec":2.8},{"dim":37.00,"sec":2.4},{"dim":37.11,"sec":1.9},
{"dim":37.97,"sec":39.2},{"dim":38.14,"sec":25.6},{"dim":37.90,"sec":22.8},{"dim":38.01,"sec":22.0},{"dim":38.18,"sec":20.1},{"dim":37.86,"sec":17.2},{"dim":38.09,"sec":16.0},{"dim":37.93,"sec":15.0},{"dim":38.12,"sec":14.0},{"dim":37.99,"sec":13.1},{"dim":38.04,"sec":12.3},{"dim":37.81,"sec":11.5},{"dim":38.16,"sec":10.8},{"dim":37.92,"sec":10.1},{"dim":38.00,"sec":9.4},{"dim":38.11,"sec":8.8},{"dim":37.88,"sec":8.2},{"dim":38.07,"sec":7.6},{"dim":37.96,"sec":7.0},{"dim":38.15,"sec":6.4},{"dim":37.84,"sec":5.8},{"dim":38.03,"sec":5.2},{"dim":37.94,"sec":4.6},{"dim":38.10,"sec":4.0},{"dim":37.87,"sec":3.4},{"dim":38.08,"sec":2.7},{"dim":37.98,"sec":1.9},
{"dim":38.86,"sec":47.0},{"dim":39.09,"sec":40.3},{"dim":38.93,"sec":33.5},{"dim":39.12,"sec":28.0},{"dim":38.99,"sec":26.1},{"dim":39.04,"sec":24.5},{"dim":38.81,"sec":23.0},{"dim":39.16,"sec":21.7},{"dim":38.92,"sec":20.5},{"dim":39.00,"sec":19.4},{"dim":39.11,"sec":18.4},{"dim":38.88,"sec":17.4},{"dim":39.07,"sec":16.5},{"dim":38.96,"sec":15.6},{"dim":39.15,"sec":14.8},{"dim":38.84,"sec":14.0},{"dim":39.03,"sec":13.2},{"dim":38.94,"sec":12.4},{"dim":39.10,"sec":11.6},{"dim":38.87,"sec":10.8},{"dim":39.08,"sec":10.0},{"dim":38.98,"sec":9.2},{"dim":39.13,"sec":8.3},{"dim":38.82,"sec":7.4},{"dim":39.05,"sec":6.3},{"dim":38.91,"sec":4.4},{"dim":38.83,"sec":3.2},
{"dim":39.83,"sec":55.0},{"dim":40.06,"sec":54.6},{"dim":39.97,"sec":52.6},{"dim":40.14,"sec":51.7},{"dim":39.90,"sec":49.8},{"dim":40.01,"sec":48.9},{"dim":40.18,"sec":45.7},{"dim":39.86,"sec":42.9},{"dim":40.09,"sec":41.6},{"dim":39.93,"sec":39.8},{"dim":40.12,"sec":39.2},{"dim":39.99,"sec":37.9},{"dim":40.04,"sec":36.4},{"dim":39.81,"sec":35.1},{"dim":40.16,"sec":33.6},{"dim":39.92,"sec":32.1},{"dim":40.00,"sec":31.2},{"dim":40.11,"sec":30.0},{"dim":39.88,"sec":28.8},{"dim":40.07,"sec":27.6},{"dim":39.96,"sec":26.4},{"dim":40.15,"sec":25.2},{"dim":39.84,"sec":24.0},{"dim":40.03,"sec":22.8},{"dim":39.94,"sec":21.6},{"dim":40.10,"sec":20.4},{"dim":39.87,"sec":19.2},{"dim":40.08,"sec":18.0},{"dim":39.98,"sec":16.7},{"dim":40.13,"sec":15.4},{"dim":39.82,"sec":14.0},{"dim":40.05,"sec":12.4},{"dim":39.91,"sec":10.7},{"dim":40.02,"sec":8.4},{"dim":39.95,"sec":5.3}
],
"asrfit": [{"dim":20,"sec":0.45},{"dim":22,"sec":0.45},{"dim":24,"sec":0.46},{"dim":26,"sec":0.47},{"dim":28,"sec":0.48},{"dim":30,"sec":0.5},{"dim":31,"sec":0.53},{"dim":32,"sec":0.58},{"dim":33,"sec":0.68},{"dim":34,"sec":0.88},{"dim":35,"sec":1.25},{"dim":36,"sec":1.95},{"dim":36.5,"sec":2.6},{"dim":37,"sec":3.6},{"dim":37.5,"sec":5.0},{"dim":38,"sec":7.3},{"dim":38.5,"sec":10.2},{"dim":39,"sec":14.3},{"dim":39.5,"sec":19.6},{"dim":40,"sec":26.2}]
},
"vconcat": [
{
  "width": 678, "height": 322,
  "title": {"text": "A", "dy": -370},
  "data": {"name": "diff"},
  "layer": [
    {"mark": {"type": "line", "strokeWidth": 1.6},
     "encoding": {
       "x": {"field": "dimension", "type": "quantitative", "scale": {"domain": [19, 41], "nice": false, "zero": false},
             "axis": {"title": "dimension", "tickCount": 100, "labelOverlap": false, "values": [20,22.5,25,27.5,30,32.5,35,37.5,40], "format": "d", "labelExpr": "datum.value % 5 === 0 ? datum.label : ''", "tickOpacity": {"condition": {"test": "datum.value % 5 === 0", "value": 1}, "value": 0}, "gridWidth": {"condition": {"test": "datum.value % 5 === 0", "value": 1.8}, "value": 0.9}}},
       "y": {"field": "difference", "type": "quantitative", "scale": {"domain": [-0.0055, 0.0055], "nice": false, "zero": false},
             "axis": {"title": "difference", "tickCount": 100, "labelOverlap": false, "values": [-0.005,-0.0045,-0.004,-0.0035,-0.003,-0.0025,-0.002,-0.0015,-0.001,-0.0005,0,0.0005,0.001,0.0015,0.002,0.0025,0.003,0.0035,0.004,0.0045,0.005], "format": ".3f", "labelExpr": "round(abs(datum.value)*10000) % 10 === 0 ? datum.label : ''", "tickOpacity": {"condition": {"test": "round(abs(datum.value)*10000) % 10 === 0", "value": 1}, "value": 0}, "gridWidth": {"condition": {"test": "round(abs(datum.value)*10000) % 10 === 0", "value": 1.8}, "value": 0.9}}},
       "color": {"field": "Metric", "type": "nominal",
                 "scale": {"domain": ["TPR", "TNR", "ReErr"], "range": ["#F8766D", "#00BA38", "#619CFF"]},
                 "legend": {"title": "Metric", "orient": "none", "legendX": 171, "legendY": 6, "direction": "horizontal", "titleOrient": "left", "titleFontSize": 19.8, "titleFontWeight": "normal", "titleColor": "#000000", "titlePadding": 13, "labelFontSize": 16, "labelColor": "#000000", "labelOffset": 8, "columnPadding": 10, "padding": 14.5, "strokeColor": "#333333", "fillColor": "#FFFFFF", "symbolType": "M-1,0L1,0M-0.27,0A0.27,0.27,0,1,1,0.27,0A0.27,0.27,0,1,1,-0.27,0Z", "symbolSize": 625, "symbolStrokeWidth": 1.6, "symbolOpacity": 1,
                   "encode": {"symbols": {"update": {"fill": {"scale": "color", "field": "value"}, "stroke": {"scale": "color", "field": "value"}}}}}}
     }},
    {"mark": {"type": "point", "filled": true, "size": 40, "opacity": 1},
     "encoding": {
       "x": {"field": "dimension", "type": "quantitative"},
       "y": {"field": "difference", "type": "quantitative"},
       "color": {"field": "Metric", "type": "nominal"}
     }}
  ]
},
{
  "width": 678, "height": 322,
  "title": {"text": "B", "dy": -401.7},
  "layer": [
    {"data": {"name": "abess"},
     "mark": {"type": "circle", "size": 26, "opacity": 1, "color": "#2E9FDF"},
     "encoding": {
       "x": {"field": "dim", "type": "quantitative", "scale": {"domain": [18.85, 41.13], "nice": false, "zero": false},
             "axis": {"title": "dimension", "tickCount": 100, "labelOverlap": false, "values": [20,22.5,25,27.5,30,32.5,35,37.5,40], "format": "d", "labelExpr": "datum.value % 5 === 0 ? datum.label : ''", "tickOpacity": {"condition": {"test": "datum.value % 5 === 0", "value": 1}, "value": 0}, "gridWidth": {"condition": {"test": "datum.value % 5 === 0", "value": 1.8}, "value": 0.9}}},
       "y": {"field": "sec", "type": "quantitative", "scale": {"domain": [0.00141, 0.01259], "nice": false, "zero": false},
             "axis": {"title": "ABESS's runtime (sec)", "tickCount": 100, "labelOverlap": false, "values": [0.0025,0.00375,0.005,0.00625,0.0075,0.00875,0.01,0.01125,0.0125], "format": ".4f", "labelExpr": "round(datum.value*100000) % 250 === 0 ? datum.label : ''", "tickOpacity": {"condition": {"test": "round(datum.value*100000) % 250 === 0", "value": 1}, "value": 0}, "gridWidth": {"condition": {"test": "round(datum.value*100000) % 250 === 0", "value": 1.8}, "value": 0.9}}}
     }},
    {"data": {"name": "abessfit"},
     "mark": {"type": "line", "strokeWidth": 4, "color": "#2E9FDF"},
     "encoding": {
       "x": {"field": "dim", "type": "quantitative"},
       "y": {"field": "sec", "type": "quantitative"}
     }}
  ]
},
{
  "width": 678, "height": 322,
  "title": {"text": "C", "dy": -380.7},
  "layer": [
    {"data": {"name": "asr"},
     "mark": {"type": "circle", "size": 24, "opacity": 1, "color": "#FC4E07"},
     "encoding": {
       "x": {"field": "dim", "type": "quantitative", "scale": {"domain": [18.85, 41.13], "nice": false, "zero": false},
             "axis": {"title": "dimension", "tickCount": 100, "labelOverlap": false, "values": [20,22.5,25,27.5,30,32.5,35,37.5,40], "format": "d", "labelExpr": "datum.value % 5 === 0 ? datum.label : ''", "tickOpacity": {"condition": {"test": "datum.value % 5 === 0", "value": 1}, "value": 0}, "gridWidth": {"condition": {"test": "datum.value % 5 === 0", "value": 1.8}, "value": 0.9}}},
       "y": {"field": "sec", "type": "quantitative", "scale": {"domain": [-2.61, 57.33], "nice": false, "zero": false},
             "axis": {"title": "ASR's runtime (sec)", "tickCount": 100, "labelOverlap": false, "values": [0,10,20,30,40,50], "format": ".3f", "labelExpr": "datum.value % 20 === 0 ? datum.label : ''", "tickOpacity": {"condition": {"test": "datum.value % 20 === 0", "value": 1}, "value": 0}, "gridWidth": {"condition": {"test": "datum.value % 20 === 0", "value": 1.8}, "value": 0.9}}}
     }},
    {"data": {"name": "asrfit"},
     "mark": {"type": "line", "strokeWidth": 3.8, "color": "#FC4E07", "interpolate": "monotone"},
     "encoding": {
       "x": {"field": "dim", "type": "quantitative"},
       "y": {"field": "sec", "type": "quantitative"}
     }}
  ]
}
]
}
